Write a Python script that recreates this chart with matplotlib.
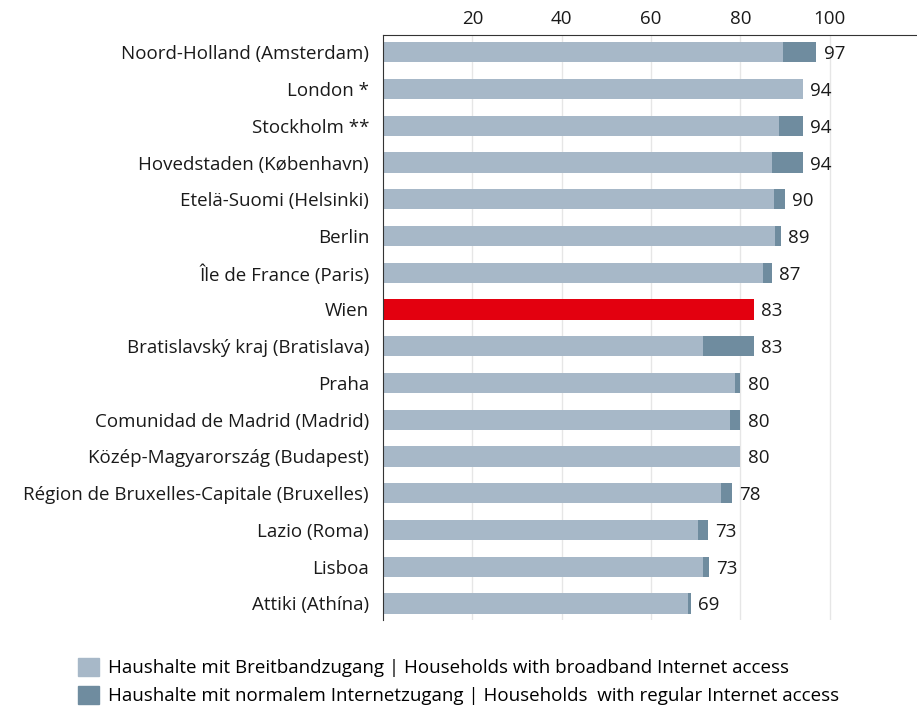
import numpy as np
import matplotlib.pyplot as plt
from matplotlib.patches import Patch

# Daten
regions = [
    "Noord-Holland (Amsterdam)", "London *", "Stockholm **",
    "Hovedstaden (København)", "Etelä-Suomi (Helsinki)", "Berlin",
    "Île de France (Paris)", "Wien", "Bratislavský kraj (Bratislava)",
    "Praha", "Comunidad de Madrid (Madrid)", "Közép-Magyarország (Budapest)",
    "Région de Bruxelles-Capitale (Bruxelles)", "Lazio (Roma)", "Lisboa",
    "Attiki (Athína)",
]
broadband = [89.5, 94, 88.6, 87, 87.5, 87.8, 85, 83, 71.5, 78.8, 77.6, 80, 75.7, 70.5, 71.7, 68.2]
regular = [7.5, 0, 5.4, 7, 2.5, 1.2, 2, 0, 11.5, 1.2, 2.4, 0, 2.3, 2.3, 1.3, 0.8]
totals = [97, 94, 94, 94, 90, 89, 87, 83, 83, 80, 80, 80, 78, 73, 73, 69]
highlight = "Wien"

c_broad = "#a7b8c8"
c_reg = "#6f8c9f"
c_red = "#e3000f"

plt.rcParams['font.family'] = ['Open Sans', 'DejaVu Sans']

fig = plt.figure(figsize=(9.17, 7.07), dpi=100)
ax = fig.add_axes([383 / 917, 1 - 620 / 707, 1 - 383 / 917, (620 - 35) / 707])

y = np.arange(len(regions))
cols = [c_red if r == highlight else c_broad for r in regions]
ax.barh(y, broadband, height=0.55, color=cols, zorder=2)
ax.barh(y, regular, left=broadband, height=0.55, color=c_reg, zorder=2)

for i, t in enumerate(totals):
    ax.text(broadband[i] + regular[i] + 1.6, y[i], str(t), va='center_baseline', ha='left',
            fontsize=13.5, color='#1a1a1a')

ax.set_xlim(0, 119.5)
ax.set_ylim(len(regions) - 0.55, -0.47)
ax.set_yticks(y)
ax.set_yticklabels(regions, fontsize=13.5, color='#1a1a1a')
ax.set_xticks([20, 40, 60, 80, 100])
ax.xaxis.tick_top()
ax.tick_params(axis='both', length=0, labelsize=13.5, colors='#1a1a1a')
ax.tick_params(axis='y', pad=10)
ax.tick_params(axis='x', pad=5)
ax.grid(axis='x', color='#e6e6e6', linewidth=1, zorder=0)
ax.spines['right'].set_visible(False)
ax.spines['bottom'].set_visible(False)
ax.spines['left'].set_color('#333333')
ax.spines['top'].set_color('#333333')

handles = [Patch(color=c_broad), Patch(color=c_reg)]
labels = ["Haushalte mit Breitbandzugang | Households with broadband Internet access",
          "Haushalte mit normalem Internetzugang | Households  with regular Internet access"]
fig.legend(handles, labels, loc='upper left', bbox_to_anchor=(70 / 917, 1 - 650 / 707),
           frameon=False, fontsize=13.5, handlelength=1.15, handleheight=1.15,
           handletextpad=0.45, labelspacing=0.45, borderaxespad=0)

fig.savefig("out.png", dpi=100)
